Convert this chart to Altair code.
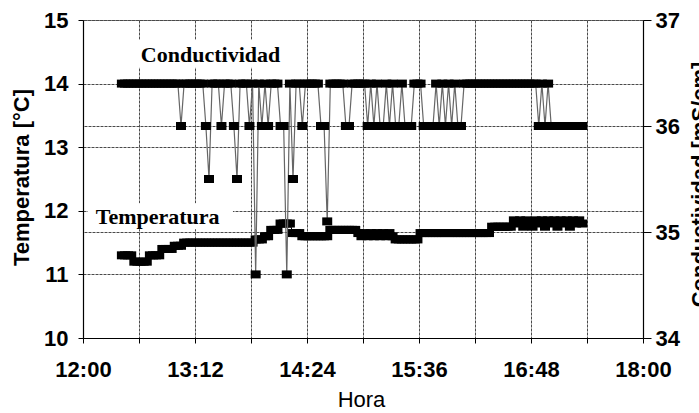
import altair as alt
import pandas as pd

# Logger samples: first reading at 12:25, one reading every 2 minutes
START_MIN = 25          # minutes after 12:00
STEP_MIN = 2

# Conductividad [mS/cm], one value per sample
conductividad = [
    36.4, 36.4, 36.4, 36.4, 36.4, 36.4, 36.4, 36.4, 36.4, 36.4,
    36.4, 36.4, 36.4, 36.4, 36.4, 36.4, 36.4, 36.4, 36.4, 36.0,
    36.4, 36.4, 36.4, 36.4, 36.4, 36.4, 36.4, 36.0, 35.5, 36.4,
    36.4, 36.4, 36.0, 36.4, 36.4, 36.4, 36.0, 35.5, 36.4, 36.4,
    36.4, 36.0, 36.4, 34.6, 36.4, 36.0, 36.4, 36.0, 36.4, 36.4,
    36.4, 36.0, 36.0, 34.6, 36.4, 35.5, 36.4, 36.4, 36.0, 36.4,
    36.4, 36.4, 36.4, 36.4, 36.0, 36.0, 35.1, 36.4, 36.4, 36.4,
    36.4, 36.4, 36.0, 36.0, 36.4, 36.4, 36.4, 36.4, 36.4, 36.0,
    36.4, 36.0, 36.4, 36.0, 36.0, 36.4, 36.0, 36.4, 36.0, 36.0,
    36.4, 36.0, 36.0, 36.0, 36.4, 36.4, 36.4, 36.0, 36.0, 36.0,
    36.0, 36.4, 36.0, 36.4, 36.0, 36.4, 36.0, 36.4, 36.0, 36.0,
    36.4, 36.4, 36.4, 36.4, 36.4, 36.4, 36.4, 36.4, 36.4, 36.4,
    36.4, 36.4, 36.4, 36.4, 36.4, 36.4, 36.4, 36.4, 36.4, 36.4,
    36.4, 36.4, 36.4, 36.4, 36.0, 36.4, 36.0, 36.4, 36.0, 36.0,
    36.0, 36.0, 36.0, 36.0, 36.0, 36.0, 36.0, 36.0, 36.0,
]

# Temperatura [°C], one value per sample
temperatura = [
    11.3, 11.3, 11.3, 11.3, 11.2, 11.2, 11.2, 11.2, 11.2, 11.3,
    11.3, 11.3, 11.3, 11.4, 11.4, 11.4, 11.4, 11.45, 11.45, 11.45,
    11.5, 11.5, 11.5, 11.5, 11.5, 11.5, 11.5, 11.5, 11.5, 11.5,
    11.5, 11.5, 11.5, 11.5, 11.5, 11.5, 11.5, 11.5, 11.5, 11.5,
    11.5, 11.5, 11.5, 11.55, 11.55, 11.55, 11.6, 11.6, 11.7, 11.7,
    11.7, 11.8, 11.8, 11.8, 11.8, 11.65, 11.65, 11.65, 11.6, 11.6,
    11.6, 11.6, 11.6, 11.6, 11.6, 11.6, 11.6, 11.7, 11.7, 11.7,
    11.7, 11.7, 11.7, 11.7, 11.7, 11.7, 11.65, 11.6, 11.65, 11.6,
    11.65, 11.6, 11.65, 11.6, 11.65, 11.6, 11.65, 11.6, 11.55, 11.55,
    11.55, 11.55, 11.55, 11.55, 11.55, 11.55, 11.65, 11.65, 11.65, 11.65,
    11.65, 11.65, 11.65, 11.65, 11.65, 11.65, 11.65, 11.65, 11.65, 11.65,
    11.65, 11.65, 11.65, 11.65, 11.65, 11.65, 11.65, 11.65, 11.65, 11.75,
    11.75, 11.75, 11.75, 11.75, 11.75, 11.75, 11.85, 11.8, 11.85, 11.75,
    11.85, 11.8, 11.75, 11.85, 11.8, 11.85, 11.75, 11.85, 11.8, 11.85,
    11.75, 11.85, 11.8, 11.85, 11.75, 11.85, 11.8, 11.85, 11.8,
]

# Axis ticks
x_ticks = [0, 36, 72, 108, 144, 180, 216, 252, 288, 324, 360]   # minutes after 12:00
temp_ticks = [10, 10.5, 11, 11.5, 12, 12.5, 13, 13.5, 14, 14.5, 15]
cond_ticks = [34, 35, 36, 37]

# Series labels inside the plot, with the white box behind each one
etiquetas = ["Conductividad", "Temperatura"]
etiqueta_min = [82, 48]
etiqueta_temp = [14.34, 11.79]
caja_min = [4.5, 3.2]
caja_min_fin = [135, 96.4]
caja_temp = [14.25, 11.71]
caja_temp_fin = [14.69, 12.12]

minutos = [START_MIN + STEP_MIN * k for k in range(len(temperatura))]
datos = pd.DataFrame({"min": minutos, "temp": temperatura, "cond": conductividad})
notas = pd.DataFrame({"texto": etiquetas, "min": etiqueta_min, "temp": etiqueta_temp})
cajas = pd.DataFrame({"min": caja_min, "min_fin": caja_min_fin,
                      "temp": caja_temp, "temp_fin": caja_temp_fin})

FONT = "Liberation Sans"
GRID = dict(grid=True, gridColor="#4a4a4a", gridDash=[3, 1], gridWidth=1, gridOpacity=1)
AXIS_STYLE = dict(domainColor="black", domainWidth=1.2, tickColor="black",
                  labelFont=FONT, labelFontSize=22, labelFontWeight="bold", labelColor="black",
                  titleFont=FONT, titleFontSize=22, titleColor="black", labelOverlap=False)

hora_expr = ("datum.value % 72 == 0 ? (floor(datum.value / 60) + 12) + ':' + "
             "(datum.value % 60 < 10 ? '0' : '') + (datum.value % 60) : ''")

x_scale = alt.Scale(domain=[0, 360], nice=False, zero=False)
x_axis = alt.Axis(values=x_ticks, labelExpr=hora_expr, labelFlush=False, tickSize=5,
                  labelPadding=16, titleFontWeight="normal", titleX=278, titleY=51,
                  titleBaseline="top", titleAlign="center", **GRID, **AXIS_STYLE)
x_enc = alt.X("min:Q", title="Hora", scale=x_scale, axis=x_axis)

t_scale = alt.Scale(domain=[10, 15], nice=False, zero=False)
t_axis = alt.Axis(orient="left", values=temp_ticks,
                  labelExpr="datum.value % 1 == 0 ? format(datum.value, 'd') : ''",
                  tickSize=5, labelPadding=10, titleFontWeight="bold", titleAngle=270,
                  titleX=-72, titleY=157, titleAlign="center", titleBaseline="top",
                  **GRID, **AXIS_STYLE)
t_title = "Temperatura [°C]"

c_scale = alt.Scale(domain=[34, 37], nice=False, zero=False)
c_axis = alt.Axis(orient="right", values=cond_ticks, format="d", tickSize=8, labelPadding=4,
                  titleFontWeight="bold", titleAngle=270, titleX=46, titleY=164,
                  titleAlign="center", titleBaseline="top", **GRID, **AXIS_STYLE)

base = alt.Chart(datos)

cajas_capa = alt.Chart(cajas).mark_rect(color="white").encode(
    x=alt.X("min:Q", title="Hora", scale=x_scale),
    x2="min_fin:Q",
    y=alt.Y("temp:Q", title=t_title, scale=t_scale),
    y2="temp_fin:Q",
)

# Slightly flattened square marker (wider than tall)
MARK = dict(shape="M-1,-0.8H1V0.8H-1Z", filled=True, size=100, color="black",
            opacity=1, strokeWidth=0)

temp_linea = base.mark_line(color="black", strokeWidth=1).encode(
    x=x_enc, y=alt.Y("temp:Q", title=t_title, scale=t_scale, axis=t_axis))
temp_puntos = base.mark_point(**MARK).encode(
    x=alt.X("min:Q", title="Hora", scale=x_scale),
    y=alt.Y("temp:Q", title=t_title, scale=t_scale))

notas_capa = alt.Chart(notas).mark_text(
    font="Liberation Serif", fontSize=22, fontWeight="bold", color="black",
    align="center", baseline="alphabetic").encode(
    x=alt.X("min:Q", title="Hora", scale=x_scale),
    y=alt.Y("temp:Q", title=t_title, scale=t_scale),
    text="texto:N")

cond_linea = base.mark_line(color="#666666", strokeWidth=1.2).encode(
    x=alt.X("min:Q", title="Hora", scale=x_scale),
    y=alt.Y("cond:Q", title="Conductividad [mS/cm]", scale=c_scale, axis=c_axis))
cond_puntos = base.mark_point(**MARK).encode(
    x=alt.X("min:Q", title="Hora", scale=x_scale),
    y=alt.Y("cond:Q", title="Conductividad [mS/cm]", scale=c_scale))

izquierda = alt.layer(cajas_capa, temp_linea, temp_puntos, notas_capa)
derecha = alt.layer(cond_linea, cond_puntos)

chart = alt.layer(izquierda, derecha).resolve_scale(y="independent").properties(
    width=560, height=318,
    autosize=alt.AutoSizeParams(type="none"),
    padding={"left": 83, "top": 20, "right": 56, "bottom": 75},
    background="white",
).configure_view(strokeOpacity=0)

chart.save("out.html", embed_options={"renderer": "svg", "actions": False})
